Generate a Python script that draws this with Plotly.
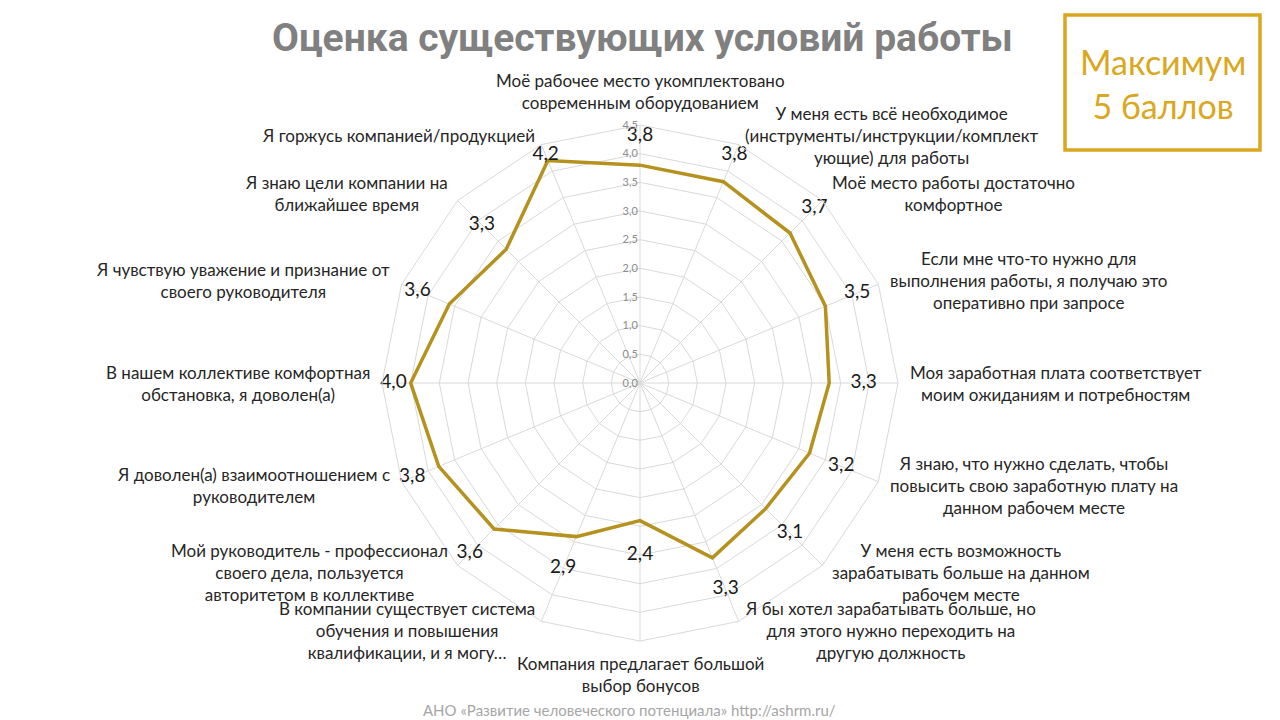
import plotly.graph_objects as go
import math

categories = [
    "Моё рабочее место укомплектовано<br>современным оборудованием",
    "У меня есть всё необходимое<br>(инструменты/инструкции/комплект<br>ующие) для работы",
    "Моё место работы достаточно<br>комфортное",
    "Если мне что-то нужно для<br>выполнения работы, я получаю это<br>оперативно при запросе",
    "Моя заработная плата соответствует<br>моим ожиданиям и потребностям",
    "Я знаю, что нужно сделать, чтобы<br>повысить свою заработную плату на<br>данном рабочем месте",
    "У меня есть возможность<br>зарабатывать больше на данном<br>рабочем месте",
    "Я бы хотел зарабатывать больше, но<br>для этого нужно переходить на<br>другую должность",
    "Компания предлагает большой<br>выбор бонусов",
    "В компании существует система<br>обучения и повышения<br>квалификации, и я могу…",
    "Мой руководитель - профессионал<br>своего дела, пользуется<br>авторитетом в коллективе",
    "Я доволен(а) взаимоотношением с<br>руководителем",
    "В нашем коллективе комфортная<br>обстановка, я доволен(а)",
    "Я чувствую уважение и признание от<br>своего руководителя",
    "Я знаю цели компании на<br>ближайшее время",
    "Я горжусь компанией/продукцией",
]
values = [3.8, 3.8, 3.7, 3.5, 3.3, 3.2, 3.1, 3.3, 2.4, 2.9, 3.6, 3.8, 4.0, 3.6, 3.3, 4.2]
radial_ticks = [0.0, 0.5, 1.0, 1.5, 2.0, 2.5, 3.0, 3.5, 4.0, 4.5]

title_text = "Оценка существующих условий работы"
box_text = "Максимум<br>5 баллов"
footer_text = "АНО «Развитие человеческого потенциала» http://ashrm.ru/"

W, H = 1280, 720
CX, CY, R = 640, 383, 258
RMAX = 4.5
LINE_COLOR = "#B5911E"
GOLD = "#D9A81E"
FONT = "Lato, Open Sans, sans-serif"

n = len(categories)
theta = [f"c{i}" for i in range(n)]

fig = go.Figure()
fig.add_trace(go.Scatterpolar(
    r=values + [values[0]], theta=theta + [theta[0]],
    mode="lines", line=dict(color=LINE_COLOR, width=3.5),
    hoverinfo="skip", showlegend=False,
))
label_r = [min(v + 0.6, 4.3) for v in values]
fig.add_trace(go.Scatterpolar(
    r=label_r, theta=theta, mode="text",
    text=[f"{v:.1f}".replace(".", ",") for v in values],
    textfont=dict(family=FONT, size=19, color="#1a1a1a"),
    textposition="middle center", cliponaxis=False,
    hoverinfo="skip", showlegend=False,
))

annotations = []
pad = 10
for i, cat in enumerate(categories):
    ang = 2 * math.pi * i / n
    s, c = math.sin(ang), math.cos(ang)
    px = CX + (R + pad) * s
    py = CY - (R + pad) * c
    if s > 0.1:
        xa = "left"
    elif s < -0.1:
        xa = "right"
    else:
        xa = "center"
    if c > 0.97:
        ya = "bottom"
    elif c < -0.97:
        ya = "top"
    else:
        ya = "middle"
    annotations.append(dict(
        x=px / W, y=1 - py / H, xref="paper", yref="paper",
        text=cat, showarrow=False, xanchor=xa, yanchor=ya, align="center",
        font=dict(family=FONT, size=17, color="#262626"),
    ))

annotations.append(dict(
    x=642 / W, y=1 - 38 / H, xref="paper", yref="paper", text=f"<b>{title_text}</b>",
    showarrow=False, xanchor="center", yanchor="middle",
    font=dict(family="Roboto, sans-serif", size=39, color="#808080"),
))
annotations.append(dict(
    x=1163 / W, y=1 - 83 / H, xref="paper", yref="paper", text=box_text,
    showarrow=False, xanchor="center", yanchor="middle", align="center",
    font=dict(family=FONT, size=34, color=GOLD),
))
annotations.append(dict(
    x=629 / W, y=1 - 710 / H, xref="paper", yref="paper", text=footer_text,
    showarrow=False, xanchor="center", yanchor="middle",
    font=dict(family=FONT, size=15, color="#A6A6A6"),
))

fig.update_layout(
    width=W, height=H, margin=dict(l=0, r=0, t=0, b=0),
    paper_bgcolor="white", plot_bgcolor="white",
    separators=", ",
    polar=dict(
        domain=dict(x=[(CX - R) / W, (CX + R) / W], y=[1 - (CY + R) / H, 1 - (CY - R) / H]),
        bgcolor="white",
        gridshape="linear",
        radialaxis=dict(
            range=[0, RMAX], tickvals=radial_ticks, tickformat=".1f",
            angle=90, tickangle=90, side="counterclockwise",
            showline=False, ticks="", gridcolor="#D9D9D9", gridwidth=1,
            tickfont=dict(family=FONT, size=11, color="#8C8C8C"),
        ),
        angularaxis=dict(
            direction="clockwise", rotation=90, showticklabels=False, ticks="",
            gridcolor="#D9D9D9", linecolor="#D9D9D9", linewidth=1,
            categoryorder="array", categoryarray=theta,
        ),
    ),
    annotations=annotations,
    shapes=[dict(type="rect", xref="paper", yref="paper",
                 x0=1065 / W, x1=1260 / W, y0=1 - 150 / H, y1=1 - 15 / H,
                 line=dict(color=GOLD, width=3.5), fillcolor="rgba(0,0,0,0)")],
)

fig.write_html("out.html")
